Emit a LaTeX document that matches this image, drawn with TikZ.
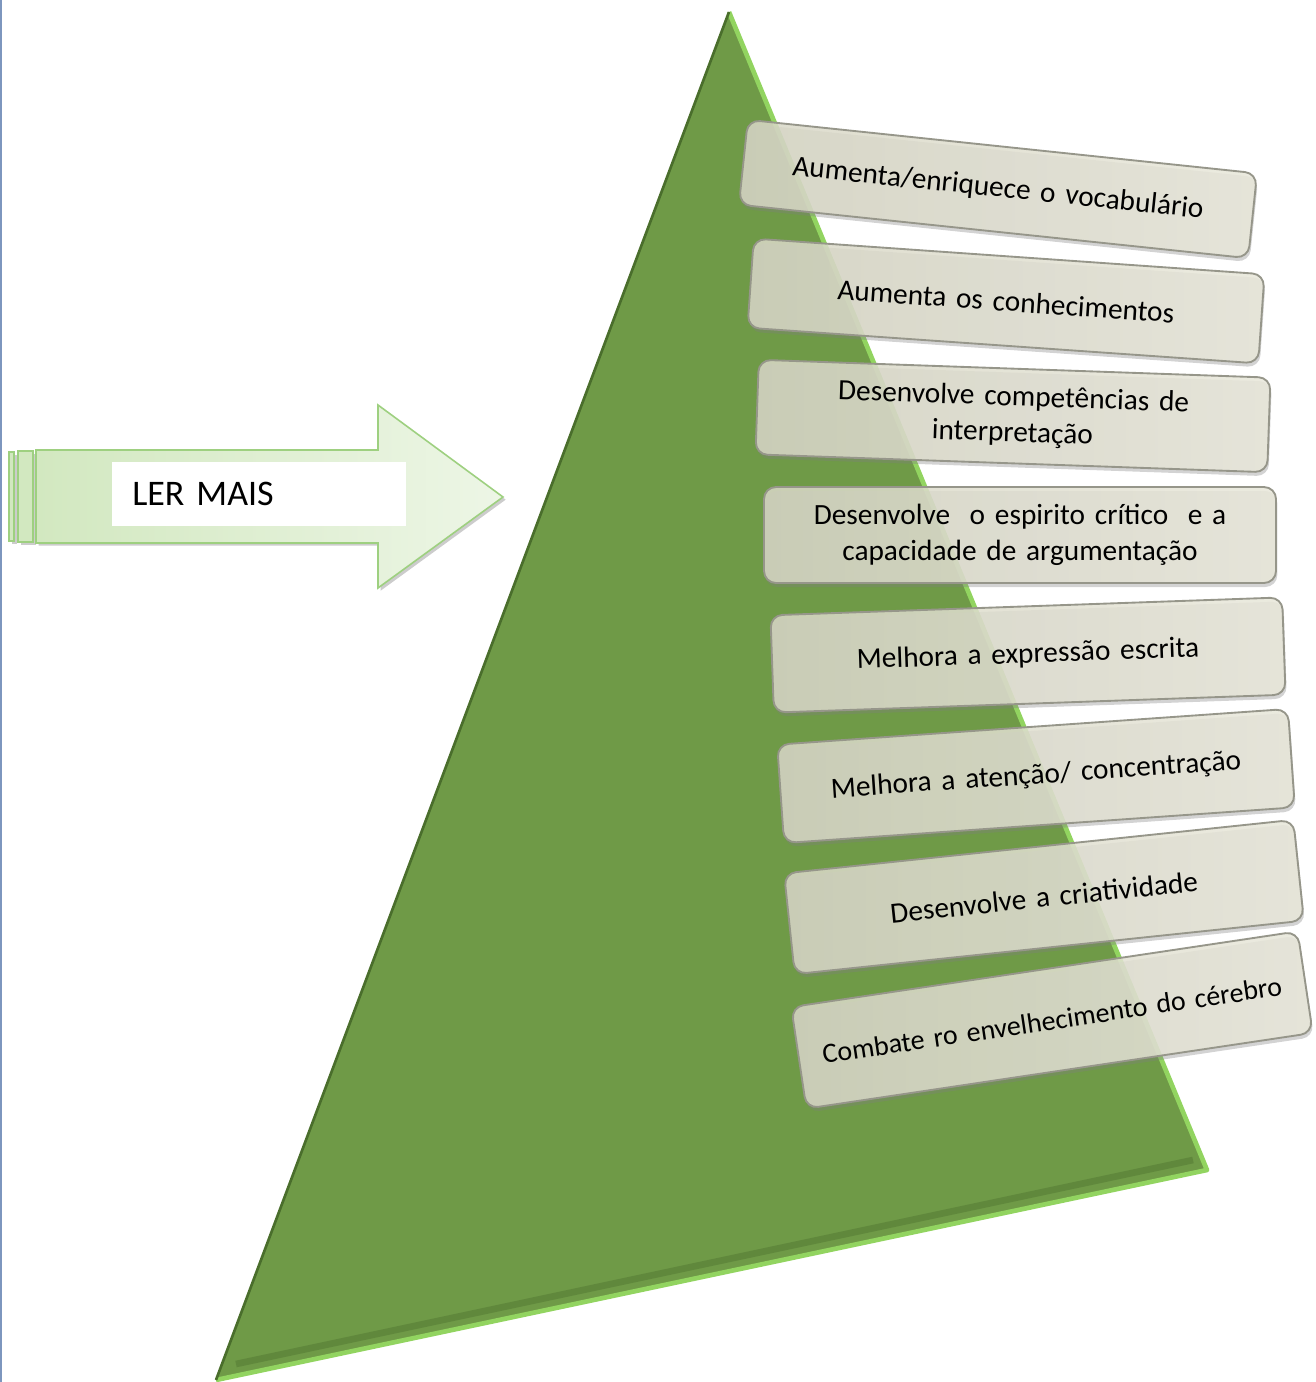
\documentclass[tikz,border=0pt]{standalone}
\usepackage{fontspec}
\setmainfont{Carlito}
\usepackage{xcolor}
\usetikzlibrary{shadows,positioning,calc}

\definecolor{pyrgreen}{RGB}{111,154,71}
\definecolor{pyrlight}{RGB}{146,212,96}
\definecolor{pyrdark}{RGB}{74,110,44}
\definecolor{boxleft}{RGB}{216,215,198}
\definecolor{boxright}{RGB}{232,231,218}
\definecolor{boxedge}{RGB}{150,150,138}
\definecolor{arrowfill}{RGB}{210,232,192}
\definecolor{arrowedge}{RGB}{158,208,128}
\definecolor{sideline}{RGB}{125,150,190}

\begin{document}
\begin{tikzpicture}[x=0.75pt,y=-0.75pt,
  item/.style={draw=boxedge, line width=1.4pt, rounded corners=9pt,
    left color=boxleft, right color=boxright, fill opacity=0.86, text opacity=1,
    minimum width=384pt, text width=376pt, inner xsep=3pt, align=center,
    font=\fontsize{22}{27}\selectfont,
    drop shadow={opacity=0.35, shadow xshift=1pt, shadow yshift=-3pt}},
  stripe/.style={draw=arrowedge, line width=1.2pt, fill=arrowfill,
    drop shadow={opacity=0.4, shadow xshift=2pt, shadow yshift=-2pt}}]
  \useasboundingbox (0,0) rectangle (1316,1382);
  % Left page edge
  \draw[sideline, line width=1.5pt] (1,0) -- (1,1382);
  % Pyramid
  \coordinate (apex) at (729,12);
  \coordinate (rc) at (1207,1170);
  \coordinate (blc) at (216,1380);
  \fill[pyrgreen] (apex) -- (rc) -- (blc) -- cycle;
  \draw[pyrdark, line width=5pt, opacity=0.4] ($(blc)+(20,-16)$) -- ($(rc)+(-14,-10)$);
  \draw[pyrlight, line width=3.5pt, line join=round] (apex) -- (rc) -- (blc);
  \draw[pyrdark, line width=2pt] (blc) -- (apex);
  % Arrow
  \draw[stripe] (9,452) rectangle (14,541);
  \draw[stripe] (18,451) rectangle (33,542);
  \draw[draw=arrowedge, line width=1.2pt, left color=arrowfill, right color=arrowfill!40!white,
    drop shadow={opacity=0.4, shadow xshift=2pt, shadow yshift=-2pt}]
    (36,450) -- (378,450) -- (378,405) -- (503,497) -- (378,588) -- (378,543) -- (36,543) -- cycle;
  \node[fill=white, minimum height=48pt, text width=190pt, inner xsep=15pt, align=left,
    anchor=west, font=\fontsize{27}{30}\selectfont] (lbl) at (112,494) {LER MAIS};
  % Benefits
  \node[item, rotate=-6, minimum height=64pt] (b1) at (998,189) {Aumenta/enriquece o vocabulário};
  \node[item, rotate=-4, minimum height=67pt] (b2) at (1006,301) {Aumenta os conhecimentos};
  \node[item, rotate=-2, minimum height=71pt] (b3) at (1013,416) {Desenvolve competências de\\interpretação};
  \node[item, rotate=0, minimum height=72pt] (b4) at (1020,535) {Desenvolve\ \ o espirito crítico\ \ e a\\capacidade de argumentação};
  \node[item, rotate=2, minimum height=73pt] (b5) at (1028,655) {Melhora a expressão escrita};
  \node[item, rotate=4, minimum height=74pt] (b6) at (1036,776) {Melhora a atenção/ concentração};
  \node[item, rotate=6, minimum height=76pt] (b7) at (1044,897) {Desenvolve a criatividade};
  \node[item, rotate=8.5, minimum height=77pt, font=\fontsize{21}{26}\selectfont] (b8) at (1052,1020) {Combate ro envelhecimento do cérebro};
\end{tikzpicture}
\end{document}
